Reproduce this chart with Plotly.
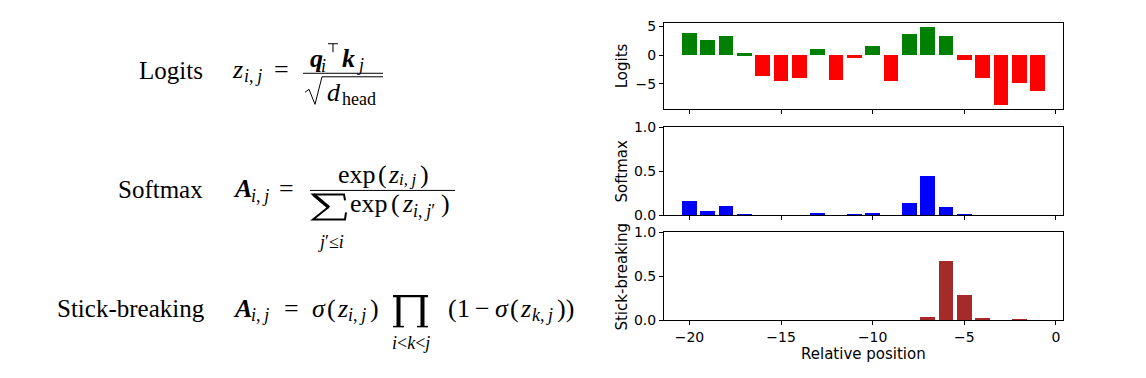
import plotly.graph_objects as go

# ---------------- data ----------------
positions = [-20, -19, -18, -17, -16, -15, -14, -13, -12, -11,
             -10, -9, -8, -7, -6, -5, -4, -3, -2, -1]
logits = [3.9, 2.6, 3.4, 0.3, -3.65, -4.55, -3.95, 1.15, -4.35, -0.45,
          1.65, -4.5, 3.7, 4.9, 3.3, -0.9, -3.95, -8.75, -4.85, -6.2]
softmax = [0.156, 0.046, 0.098, 0.004, 0.0, 0.0, 0.0, 0.010, 0.0, 0.002,
           0.017, 0.0, 0.13, 0.44, 0.089, 0.001, 0.0, 0.0, 0.0, 0.0]
stick = [0.0, 0.0, 0.0, 0.0, 0.0, 0.0, 0.0, 0.0, 0.0, 0.0,
         0.0, 0.0, 0.0, 0.027, 0.67, 0.28, 0.02, 0.0, 0.004, 0.0]
x_ticks = [-20, -15, -10, -5, 0]
logit_ticks = [-5, 0, 5]
prob_ticks = [0.0, 0.5, 1.0]
ylabels = ["Logits", "Softmax", "Stick-breaking"]
xlabel = "Relative position"

W, H = 1146, 378
VS, VO = 0.9565, 6.8   # observed vertical mapping of the captured page


def px(x):
    return x / W


def py(y):
    return 1 - ((y - VO) / VS) / H


logit_colors = ["green" if v >= 0 else "red" for v in logits]

fig = go.Figure()
fig.add_trace(go.Bar(x=positions, y=logits, width=0.8, marker=dict(color=logit_colors, line=dict(width=0)),
                     xaxis="x", yaxis="y", showlegend=False))
fig.add_trace(go.Bar(x=positions, y=softmax, width=0.8, marker=dict(color="blue", line=dict(width=0)),
                     xaxis="x2", yaxis="y2", showlegend=False))
fig.add_trace(go.Bar(x=positions, y=stick, width=0.8, marker=dict(color="#a52a2a", line=dict(width=0)),
                     xaxis="x3", yaxis="y3", showlegend=False))

tickfont = dict(family="DejaVu Sans", size=14, color="black")
common = dict(showline=True, mirror=True, linecolor="black", linewidth=1, ticks="outside",
              ticklen=4, tickwidth=1, tickcolor="black", showgrid=False, zeroline=False,
              tickfont=tickfont)

xdom = [px(664), px(1063)]
ydoms = [[py(108), py(21.7)], [py(213.7), py(126)], [py(318.5), py(231)]]
xr = [-21.39, 0.39]

layout = dict(
    width=W, height=H, margin=dict(l=0, r=0, t=0, b=0, pad=0), autosize=False,
    paper_bgcolor="white", plot_bgcolor="white", bargap=0,
    xaxis=dict(domain=xdom, anchor="y", range=xr, tickvals=x_ticks, showticklabels=False, **common),
    xaxis2=dict(domain=xdom, anchor="y2", range=xr, tickvals=x_ticks, showticklabels=False, **common),
    xaxis3=dict(domain=xdom, anchor="y3", range=xr, tickvals=x_ticks, showticklabels=True, **common),
    yaxis=dict(domain=ydoms[0], anchor="x", range=[-9.43, 5.58], tickvals=logit_ticks, **common),
    yaxis2=dict(domain=ydoms[1], anchor="x2", range=[0, 1], tickvals=prob_ticks, tickformat=".1f", **common),
    yaxis3=dict(domain=ydoms[2], anchor="x3", range=[0, 1], tickvals=prob_ticks, tickformat=".1f", **common),
)
fig.update_layout(**layout)

annotations = []
shapes = []

# axis labels
for lab, yc in zip(ylabels, [65, 170, 275]):
    annotations.append(dict(x=px(622), y=py(yc), xref="paper", yref="paper", text=lab, textangle=-90,
                            showarrow=False, xanchor="center", yanchor="middle",
                            font=dict(family="DejaVu Sans", size=15, color="black")))
annotations.append(dict(x=px(863), y=py(352), xref="paper", yref="paper", text=xlabel, showarrow=False,
                        xanchor="center", yanchor="middle",
                        font=dict(family="DejaVu Sans", size=15, color="black")))

SERIF = "Liberation Serif"
BIG = 26
SUB = 18
TS = "\u2009"  # thin space


def put(x, base, text, size=BIG, family=SERIF, anchor="left"):
    annotations.append(dict(x=px(x), y=py(base - 0.34 * size * VS), xref="paper", yref="paper",
                            xanchor=anchor, yanchor="middle", text=text, showarrow=False,
                            borderpad=0,
                            font=dict(family=family, size=size, color="black")))


def hline(x0, x1, y, w=1.0):
    shapes.append(dict(type="line", xref="paper", yref="paper", x0=px(x0), x1=px(x1),
                       y0=py(y), y1=py(y), line=dict(color="black", width=w)))


def path(pts, w=1.0):
    d = "M " + " L ".join(f"{px(a):.5f},{py(b):.5f}" for a, b in pts)
    shapes.append(dict(type="path", xref="paper", yref="paper", path=d,
                       line=dict(color="black", width=w), fillcolor="rgba(0,0,0,0)"))


IJ = "<i>i</i>," + TS + "<i>j</i>"

# ---- Row 1: Logits ----
put(138, 77, "Logits", 25)
put(231, 77, "<i>z</i>")
put(243, 81, IJ, SUB)
put(273, 77, "=")
put(309, 66, "<b><i>q</i></b>")
put(320, 71, "<i>i</i>", SUB)
hline(328, 338, 42.5)                      # transpose symbol
path([(333, 42.5), (333, 51)], w=1.0)
put(341, 66, "<b><i>k</i></b>")
put(356, 70, "<i>j</i>", SUB)
hline(303, 383, 72)
path([(305, 91), (309, 88), (315, 103), (322, 75.5), (383, 75.5)], w=1.0)
put(326, 100, "<i>d</i>")
put(341, 104, "head", SUB)

# ---- Row 2: Softmax ----
put(117, 196, "Softmax", 25)
put(232, 196, "<b><i>A</i></b>")
put(250, 200, IJ, SUB)
put(278, 196, "=")
hline(310, 455, 189)
put(337, 182, "exp")
put(377, 182, "(")
put(387, 182, "<i>z</i>")
put(398, 184, IJ, 17)
put(419, 182, ")")
# big sigma
path([(345, 199), (344, 193), (313, 193), (328, 206), (313, 218), (345, 218), (346, 211)], w=2)
path([(313.5, 193), (329, 206)], w=3.2)
put(349, 211, "exp")
put(390, 211, "(")
put(401, 211, "<i>z</i>")
put(412, 215, IJ + "′", SUB)
put(440, 211, ")")
put(331, 246, "<i>j</i>′≤<i>i</i>", SUB, anchor="center")

# ---- Row 3: Stick-breaking ----
put(56, 315, "Stick-breaking", 25)
put(232, 315, "<b><i>A</i></b>")
put(250, 319, IJ, SUB)
put(283, 315, "=")
put(311, 315, "<i>σ</i>")
put(326, 315, "(")
put(336, 315, "<i>z</i>")
put(347, 319, IJ, SUB)
put(369, 315, ")")
# big product
hline(393, 428, 294.5, 2.2)
path([(398.5, 294), (398.5, 325)], w=4)
path([(422.5, 294), (422.5, 325)], w=4)
hline(393, 404, 325, 1.5)
hline(417, 428, 325, 1.5)
put(411, 347, "<i>i</i><<i>k</i><<i>j</i>", SUB, anchor="center")
put(447, 315, "(")
put(456, 315, "1")
put(474, 315, "−")
put(494, 315, "<i>σ</i>")
put(509, 315, "(")
put(519, 315, "<i>z</i>")
put(531, 319, "<i>k</i>," + TS + "<i>j</i>", SUB)
put(556, 315, "))")

fig.update_layout(annotations=annotations, shapes=shapes)
css = ("var s=document.createElement('style');"
       "s.textContent='html,body{margin:0!important;padding:0!important;overflow:hidden!important;}';"
       "document.head.appendChild(s);")
fig.write_html("out.html", config={"displayModeBar": False}, post_script=css)
